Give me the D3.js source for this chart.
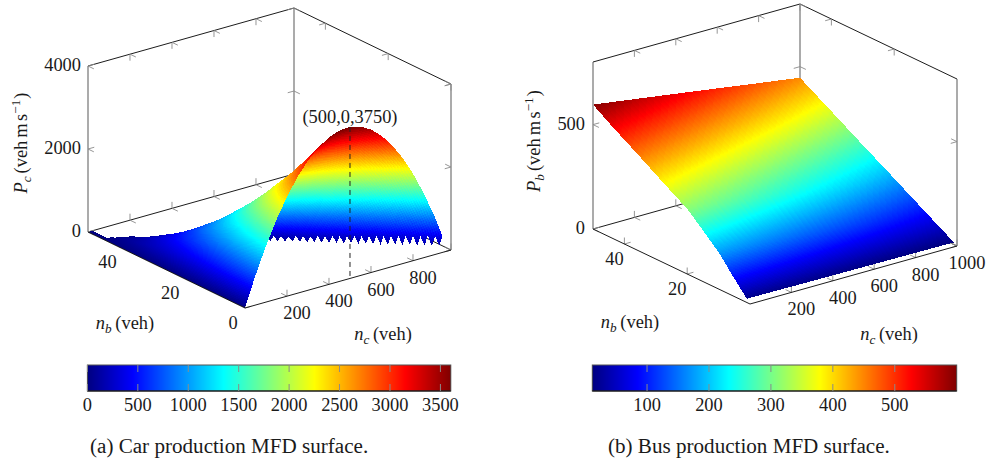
<!DOCTYPE html>
<html><head><meta charset="utf-8">
<style>html,body{margin:0;padding:0;background:#fff}svg{display:block}
text{font-family:"Liberation Serif","Times New Roman",serif;fill:#1a1a1a}</style>
<script src="https://cdn.jsdelivr.net/npm/d3@7"></script></head><body>
<script>
// ---- Car production, rows by bus count, columns by car count.
// Rows stop just beyond the jam boundary: the surface is not drawn past it.
const carNc = d3.range(0, 1001, 50);
const carNb = [0, 5, 10, 15, 20, 25, 30, 35, 40, 45, 50];
const carPc = [
 [0,716,1354,1914,2396,2800,3126,3374,3544,3636,3650,3586,3444,3224,2926,2550,2096,1564,954,266,-500],
 [0,638,1198,1680,2084,2410,2658,2828,2920,2934,2870,2728,2508,2210,1834,1380,848,238,-450,-1216,-2060],
 [0,560,1042,1446,1772,2020,2190,2282,2296,2232,2090,1870,1572,1196,742,210,-400,-1088,-1854],
 [0,482,886,1212,1460,1630,1722,1736,1672,1530,1310,1012,636,182,-350,-960,-1648],
 [0,404,730,978,1148,1240,1254,1190,1048,828,530,154,-300,-832,-1442],
 [0,326,574,744,836,850,786,644,424,126,-250,-704,-1236],
 [0,248,418,510,524,460,318,98,-200,-576,-1030],
 [0,170,262,276,212,70,-150,-448,-824],
 [0,92,106,42,-100,-320,-618],
 [0,14,-50,-192,-412],
 [0,-64,-206,-426]
];
// ---- Bus production.
const busNc = [0, 250, 500, 750, 1000];
const busNb = [1, 5, 10, 15, 20, 25, 30, 35, 40, 45, 50];
const busPb = [
 [18,16,14,12,10],
 [86,76,66,56,46],
 [176,155,133,112,90],
 [245,217,190,162,135],
 [312,279,246,213,180],
 [358,325,291,258,224],
 [405,371,337,302,268],
 [453,418,383,348,313],
 [499,464,429,394,358],
 [546,510,474,438,402],
 [596,559,522,484,447]
];
// ---- Axis ticks, labels and annotation.
const carNcTicks = [200, 400, 600, 800];
const carNbTicks = [0, 20, 40];
const carZTicks = [0, 2000, 4000];
const carBarTicks = [0, 500, 1000, 1500, 2000, 2500, 3000, 3500];
const busNcTicks = [200, 400, 600, 800, 1000];
const busNbTicks = [20, 40];
const busZTicks = [0, 500];
const busBarTicks = [100, 200, 300, 400, 500];
const carBarRange = [0, 3603];
const busBarRange = [11.6, 600];
const peakPoint = [500, 0, 3650];
const peakLabel = "(500,0,3750)";
const captions = ["(a) Car production MFD surface.", "(b) Bus production MFD surface."];
const jetStops = ["#000080", "#0000ff", "#00ffff", "#ffff00", "#ff0000", "#800000"];
const jetPositions = [0, 1/8, 3/8, 5/8, 7/8, 1];

const W = 987, H = 464, FS = 18.4, CAP = 21.1;
const svg = d3.select("body").append("svg").attr("width", W).attr("height", H);

function jet(range){
  const t = d3.scaleLinear().domain(range).range([0, 1]).clamp(true);
  const c = d3.scaleLinear().domain(jetPositions).range(jetStops).interpolate(d3.interpolateRgb);
  return v => c(t(v));
}
// bilinear lookup in a table; missing entries give NaN
function lookup(xs, ys, table){
  return (x, y) => {
    let i = d3.bisectRight(xs, x) - 1, k = d3.bisectRight(ys, y) - 1;
    i = Math.max(0, Math.min(xs.length - 2, i)); k = Math.max(0, Math.min(ys.length - 2, k));
    const u = (x - xs[i]) / (xs[i+1] - xs[i]), v = (y - ys[k]) / (ys[k+1] - ys[k]);
    const a = table[k][i], b = table[k][i+1], c = table[k+1][i], d = table[k+1][i+1];
    return (1-v)*((1-u)*a + u*b) + v*((1-u)*c + u*d);
  };
}
function panel(o){
  const g = svg.append("g");
  const nx = d3.scaleLinear().domain([0,o.ncMax]).range([o.B[0], o.C[0]]);
  const ny = d3.scaleLinear().domain([0,o.ncMax]).range([o.B[1], o.C[1]]);
  const bx = d3.scaleLinear().domain([0,o.nbMax]).range([0, o.A[0]-o.B[0]]);
  const by = d3.scaleLinear().domain([0,o.nbMax]).range([0, o.A[1]-o.B[1]]);
  const zy = d3.scaleLinear().domain([0,o.zMax]).range([0, -o.h]);
  const P = (nc,nb,z) => [nx(nc)+bx(nb), ny(nc)+by(nb)+zy(z)];
  const N = o.ncMax, M = o.nbMax, Z = o.zMax;
  const seg = (a,b,color,w) => g.append("line").attr("x1",a[0]).attr("y1",a[1]).attr("x2",b[0]).attr("y2",b[1])
      .attr("stroke",color).attr("stroke-width",w);
  // back edges
  const edge = "#1c1c1c", vert = "#666", tk = "#8a8a8a";
  seg(P(0,M,0),P(N,M,0),edge,1); seg(P(N,M,0),P(N,0,0),edge,1);
  seg(P(0,M,Z),P(N,M,Z),edge,1); seg(P(N,M,Z),P(N,0,Z),edge,1);
  seg(P(0,M,0),P(0,M,Z),vert,1.1); seg(P(N,M,0),P(N,M,Z),vert,1.1); seg(P(N,0,0),P(N,0,Z),vert,1.1);
  // tick marks: two short strokes running into the two walls that meet on each edge
  const L = 6.5;
  const stroke = (p, q) => { const a = P(...p), b = P(...q), d = Math.hypot(b[0]-a[0], b[1]-a[1]);
    seg(a, [a[0]+(b[0]-a[0])/d*L, a[1]+(b[1]-a[1])/d*L], tk, 0.9); };
  o.ncTicks.forEach(t => {
    stroke([t,0,0],[t,M,0]); stroke([t,0,0],[t,0,Z]);
    stroke([t,M,0],[t,0,0]); stroke([t,M,0],[t,M,Z]);
    stroke([t,M,Z],[t,0,Z]); stroke([t,M,Z],[t,M,0]);
  });
  o.nbTicks.forEach(t => {
    stroke([0,t,0],[N,t,0]); stroke([0,t,0],[0,t,Z]);
    stroke([N,t,0],[0,t,0]); stroke([N,t,0],[N,t,Z]);
    stroke([N,t,Z],[0,t,Z]); stroke([N,t,Z],[N,t,0]);
  });
  o.zTicks.forEach(t => {
    stroke([0,M,t],[N,M,t]); stroke([0,M,t],[0,0,t]);
    stroke([N,M,t],[0,M,t]); stroke([N,M,t],[N,0,t]);
    stroke([N,0,t],[0,0,t]); stroke([N,0,t],[N,M,t]);
  });
  // surface, painted from far to near
  const color = jet(o.barRange), surf = g.append("g").attr("shape-rendering","crispEdges"), cells = [];
  const f = o.f;
  for (let j = o.coarseNb.length-2; j >= 0; j--) {
    for (let i = o.coarseNc.length-2; i >= 0; i--) {
      const n0=o.coarseNc[i], n1=o.coarseNc[i+1], b0=o.coarseNb[j], b1=o.coarseNb[j+1];
      if (!o.keep(n1, b1)) continue;
      for (let sb=o.subNb-1; sb>=0; sb--) for (let sc=o.subNc-1; sc>=0; sc--) {
        const a0=n0+(n1-n0)*sc/o.subNc, a1=n0+(n1-n0)*(sc+1)/o.subNc;
        const c0=b0+(b1-b0)*sb/o.subNb, c1=b0+(b1-b0)*(sb+1)/o.subNb;
        const z = (a,c)=>Math.max(0,f(a,c));
        const q=[[a0,c0],[a1,c0],[a1,c1],[a0,c1]].map(([a,c])=>P(a,c,z(a,c)));
        cells.push({q, v:(z(a0,c0)+z(a1,c0)+z(a1,c1)+z(a0,c1))/4});
      }
    }
  }
  surf.selectAll("polygon").data(cells).join("polygon")
    .attr("points", d=>d.q.map(p=>p[0].toFixed(2)+","+p[1].toFixed(2)).join(" "))
    .attr("fill", d=>color(d.v));
  // front floor edges
  seg(P(0,M,0),P(0,0,0),edge,1); seg(P(0,0,0),P(N,0,0),edge,1);
  // tick labels
  const txt = (x,y,s,anchor="middle",fs=FS) => g.append("text").attr("x",x).attr("y",y).attr("text-anchor",anchor).attr("font-size",fs).text(s);
  o.zTicks.forEach(t => { const p=P(0,M,t); txt(p[0]+o.zOff[0],p[1]+o.zOff[1],t,"end"); });
  o.nbTicks.forEach(t => { const p=P(0,t,0); txt(p[0]+o.nbOff[0],p[1]+o.nbOff[1],t); });
  o.ncTicks.forEach(t => { const p=P(t,0,0); txt(p[0]+o.ncOff[0],p[1]+o.ncOff[1],t); });
  // axis titles
  const sym = (x,y,base,sub,tr) => { const t=g.append("text").attr("x",x).attr("y",y).attr("text-anchor","middle").attr("font-size",FS);
    if(tr) t.attr("transform",tr);
    t.append("tspan").attr("font-style","italic").text(base);
    t.append("tspan").attr("font-style","italic").attr("font-size",FS*0.72).attr("dy",FS*0.2).text(sub);
    return t; };
  let t1 = sym(o.nbTitle[0],o.nbTitle[1],"n","b"); t1.append("tspan").attr("dy",-FS*0.2).text("\u2009(veh)");
  let t2 = sym(o.ncTitle[0],o.ncTitle[1],"n","c"); t2.append("tspan").attr("dy",-FS*0.2).text("\u2009(veh)");
  let t3 = sym(0,0,"P",o.zSub,`translate(${o.zTitle[0]},${o.zTitle[1]}) rotate(-90)`);
  t3.append("tspan").attr("dy",-FS*0.2).attr("dx",3).text("(veh");
  t3.append("tspan").attr("dx",3).text("m");
  t3.append("tspan").attr("dx",2.5).text("s");
  t3.append("tspan").attr("font-size",FS*0.72).attr("dy",-FS*0.36).text("\u22121");
  t3.append("tspan").attr("dy",FS*0.36).attr("dx",1).text(")");
  // colour bar
  const bx0=o.bar[0], bx1=o.bar[1], by0=365, by1=391;
  const bar = d3.scaleLinear().domain(o.barRange).range([bx0,bx1]);
  const pixels = d3.range(Math.round(bx0), Math.round(bx1), 1);
  g.append("g").attr("shape-rendering","crispEdges").selectAll("rect").data(pixels).join("rect")
    .attr("x",d=>d).attr("y",by0).attr("width",1).attr("height",by1-by0).attr("fill",d=>color(bar.invert(d+0.5)));
  g.append("rect").attr("x",bx0).attr("y",by0).attr("width",bx1-bx0).attr("height",by1-by0).attr("fill","none").attr("stroke","#555").attr("stroke-width",1);
  seg([bx0,by1],[bx1,by1],"#000",1.1);
  o.barTicks.forEach(t => { const x=bar(t);
    seg([x,by0],[x,by0+7],"#8a8a8a",1); seg([x,by1-7],[x,by1],"#8a8a8a",1);
    txt(x,411,t); });
  txt(o.caption[0],453,o.caption[1],"start",CAP);
  return P;
}
const carF = lookup(carNc, carNb, carPc);
const busF = lookup(busNc, busNb, busPb);
const P1 = panel({
  A:[88,232], B:[245,308], C:[451,250], h:166, ncMax:981, nbMax:50, zMax:4000,
  ncTicks:carNcTicks, nbTicks:carNbTicks, zTicks:carZTicks, f:carF,
  coarseNc:d3.range(0,961,20), coarseNb:d3.range(0,51,1), subNc:8, subNb:3,
  keep:(n,b)=> n<=20 || carF(n,b)/n >= 0.08,
  barRange:carBarRange, barTicks:carBarTicks, bar:[87.4,450.8],
  zOff:[-7,5], nbOff:[-12,21], ncOff:[10,23], nbTitle:[125,329], ncTitle:[383,340], zTitle:[27,143], zSub:"c",
  caption:[90,captions[0]]
});
panel({
  A:[593,229], B:[750,304], C:[957,246], h:167, ncMax:1000, nbMax:50, zMax:800,
  ncTicks:busNcTicks, nbTicks:busNbTicks, zTicks:busZTicks, f:busF,
  coarseNc:d3.range(0,1001,25), coarseNb:d3.range(1,50.1,1), subNc:1, subNb:4,
  keep:()=>true,
  barRange:busBarRange, barTicks:busBarTicks, bar:[592.3,956.7],
  zOff:[-8,5], nbOff:[-10,21], ncOff:[10,23], nbTitle:[630,328], ncTitle:[889,340], zTitle:[540,141], zSub:"b",
  caption:[608,captions[1]]
});
// annotation in panel (a)
const peakTop = P1(...peakPoint), peakFoot = P1(peakPoint[0], peakPoint[1], 0);
svg.append("line").attr("x1",peakTop[0]).attr("y1",peakTop[1]).attr("x2",peakFoot[0]).attr("y2",peakFoot[1])
  .attr("stroke","#222").attr("stroke-width",1).attr("stroke-dasharray","5 4");
svg.append("text").attr("x",350).attr("y",123).attr("text-anchor","middle").attr("font-size",FS).text(peakLabel);
</script></body></html>
